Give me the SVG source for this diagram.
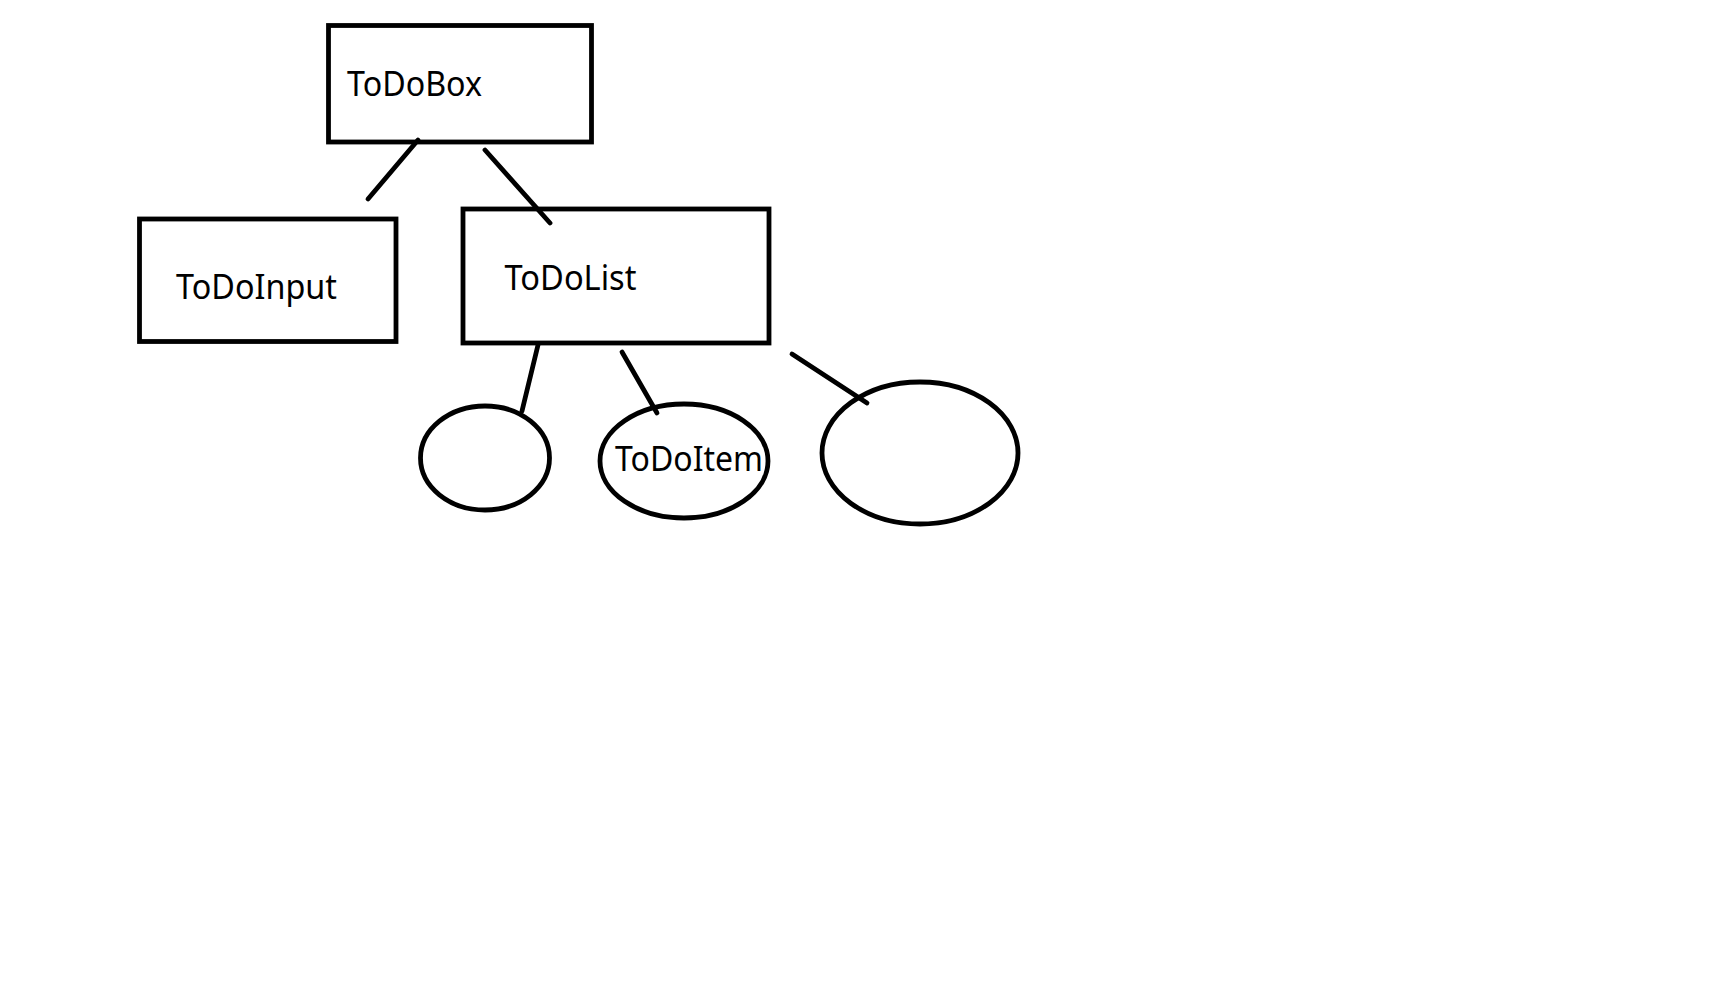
<svg xmlns="http://www.w3.org/2000/svg" width="1726" height="1008" viewBox="0 0 1726 1008">
<style>
.shape{fill:none;stroke:#000;stroke-width:4.8}
.conn line{stroke:#000;stroke-width:4.8;stroke-linecap:round}
text{font-family:"Noto Sans","Open Sans","Liberation Sans",sans-serif;font-size:34px;fill:#000}
</style>
<rect width="1726" height="1008" fill="#fff"/>
<g id="connectors" class="conn">
<line x1="418" y1="140" x2="368" y2="199"/>
<line x1="485" y1="150" x2="550" y2="223"/>
<line x1="538" y1="345" x2="522" y2="411"/>
<line x1="622" y1="352" x2="657" y2="413"/>
<line x1="792" y1="354" x2="867" y2="403"/>
</g>
<g id="ToDoBox">
<rect class="shape" x="328.5" y="25.5" width="263" height="116.5"/>
<text x="347" y="96" textLength="135" lengthAdjust="spacingAndGlyphs">ToDoBox</text>
</g>
<g id="ToDoInput">
<rect class="shape" x="139.5" y="219" width="256.5" height="122.5"/>
<text x="176" y="299" textLength="161" lengthAdjust="spacingAndGlyphs">ToDoInput</text>
</g>
<g id="ToDoList">
<rect class="shape" x="463" y="209" width="306" height="134"/>
<text x="504.5" y="289.5" textLength="132" lengthAdjust="spacingAndGlyphs">ToDoList</text>
</g>
<g id="item1">
<ellipse class="shape" cx="485" cy="458" rx="64.5" ry="52"/>
</g>
<g id="ToDoItem">
<ellipse class="shape" cx="684" cy="461" rx="84" ry="57"/>
<text x="615" y="470.5" textLength="148" lengthAdjust="spacingAndGlyphs">ToDoItem</text>
</g>
<g id="item3">
<ellipse class="shape" cx="920" cy="453" rx="98" ry="71"/>
</g>
</svg>
